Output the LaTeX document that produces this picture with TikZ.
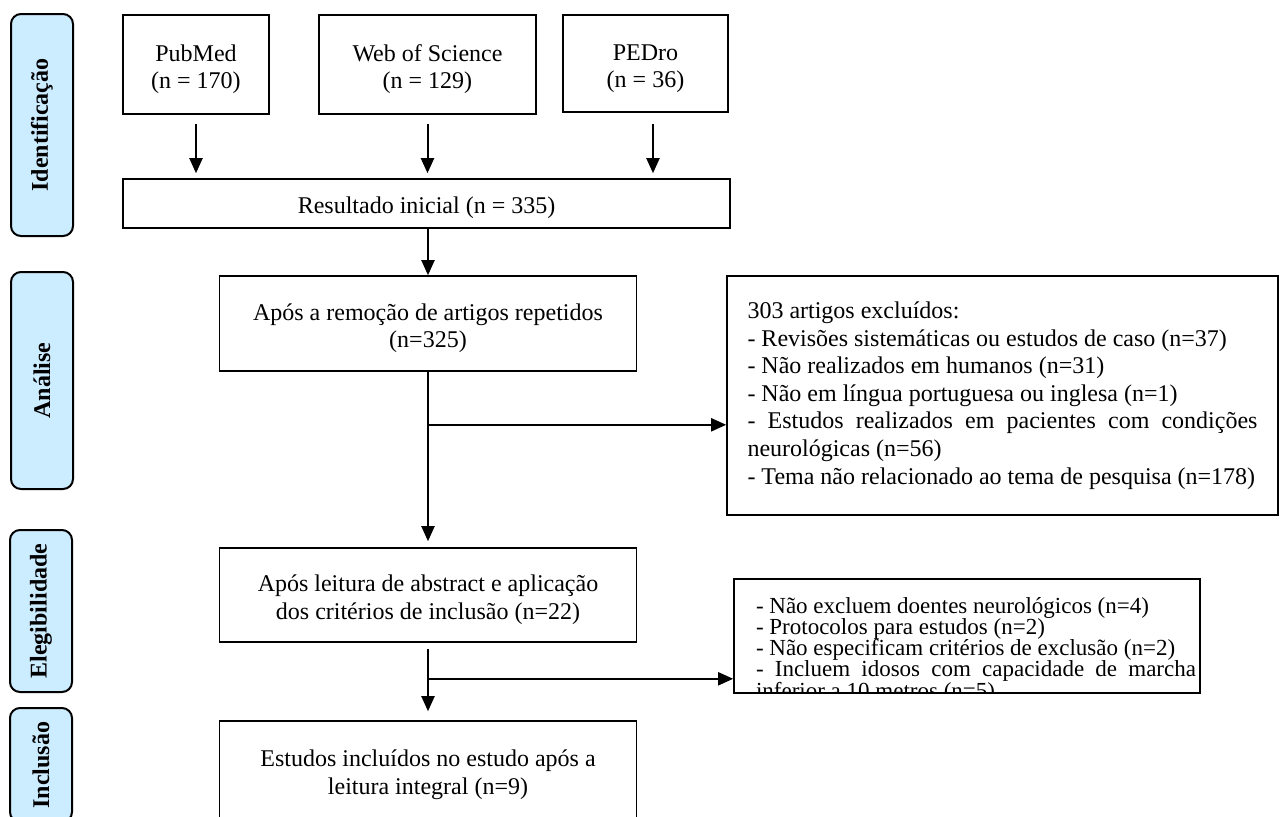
\documentclass[tikz,border=0pt]{standalone}
\usepackage{fontspec}
\setmainfont{Liberation Serif}
\usepackage{xcolor}
\usetikzlibrary{arrows.meta}
\definecolor{phasefill}{HTML}{CCECFF}
\hyphenpenalty=10000
\newcommand\tightlines{\baselineskip=11pt\relax\lineskiplimit=-20pt\relax\lineskip=0pt\relax}
\newcommand\topgap{\rule{0pt}{13pt}}

\begin{document}
\begin{tikzpicture}[x=0.5pt, y=-0.5pt, >={Triangle[length=7.5pt,width=6.5pt]}, line width=1pt,
    font=\fontsize{12pt}{13.8pt}\selectfont,
    box/.style={draw, line width=0.8pt, inner sep=0pt, align=center},
    phase/.style={draw, line width=1pt, rounded corners=5pt, fill=phasefill, rotate=90,
        inner sep=0pt, minimum height=31pt, font=\fontsize{12pt}{13.8pt}\selectfont\bfseries},
    flow/.style={->, line width=1pt}]
    \clip (0,0) rectangle (1282,816);

    \node[phase, minimum width=111pt] (Ident) at (42,125) {Identificação};
    \node[phase, minimum width=108.5pt] (Anal) at (42,380.5) {Análise};
    \node[phase, minimum width=81pt] (Eleg) at (41,611) {Elegibilidade};
    \node[phase, minimum width=57pt] (Incl) at (41,765) {Inclusão};

    \node[box, minimum width=73pt, minimum height=49.5pt] (PubMed) at (196,64.5) {\topgap PubMed\\(n = 170)};
    \node[box, minimum width=108.5pt, minimum height=49.5pt] (WoS) at (427.5,64.5) {\topgap Web of Science\\(n = 129)};
    \node[box, minimum width=82.5pt, minimum height=48.5pt] (PEDro) at (645.5,63.5) {\topgap PEDro\\(n = 36)};
    \node[box, minimum width=303.5pt, minimum height=24.5pt] (Res) at (426.5,203.5) {\topgap Resultado inicial (n = 335)};
    \node[box, minimum width=208.5pt, minimum height=47.5pt] (Rem) at (428,323.5) {\topgap Após a remoção de artigos repetidos\\(n=325)};
    \node[box, minimum width=275.5pt, minimum height=119.5pt, text width=255pt, align=justify,
        inner xsep=10.25pt] (Excl1) at (1002.5,395.5) {303 artigos excluídos:\\
        - Revisões sistemáticas ou estudos de caso (n=37)\\
        - Não realizados em humanos (n=31)\\
        - Não em língua portuguesa ou inglesa (n=1)\\
        - Estudos realizados em pacientes com condições neurológicas (n=56)\\
        - Tema não relacionado ao tema de pesquisa (n=178)};
    \node[box, minimum width=208.5pt, minimum height=47pt] (Leit) at (428,595) {\topgap Após leitura de abstract e aplicação\\dos critérios de inclusão (n=22)};
    \node[box, minimum width=233pt, minimum height=57pt] (Excl2) at (967,636) {};
    \begin{scope}
        \clip (Excl2.south west) rectangle (Excl2.north east);
        \node[anchor=north west, inner sep=0pt, text width=220pt, align=justify,
            font=\fontsize{11.5pt}{11pt}\selectfont] (Excl2txt) at (755,596) {\tightlines
            - Não excluem doentes neurológicos (n=4)\\[-0.4pt]
            - Protocolos para estudos (n=2)\\[-0.4pt]
            - Não especificam critérios de exclusão (n=2)\\[-0.4pt]
            - Incluem idosos com capacidade de marcha inferior a 10 metros (n=5)};
    \end{scope}
    \node[box, minimum width=208.5pt, minimum height=54pt] (Est) at (428,775) {Estudos incluídos no estudo após a\\leitura integral (n=9)};

    \coordinate (split1) at ([yshift=-26.5pt]Rem.south);
    \coordinate (split2) at ([yshift=-18pt]Leit.south);

    \draw[flow] ([yshift=-4.5pt]PubMed.south) -- ([yshift=2.5pt]PubMed.south |- Res.north);
    \draw[flow] ([yshift=-4.5pt]WoS.south) -- ([yshift=2.5pt]WoS.south |- Res.north);
    \draw[flow] ([xshift=3.75pt,yshift=-5.5pt]PEDro.south) -- ([xshift=3.75pt,yshift=2.5pt]PEDro.south |- Res.north);
    \draw[flow] (Rem.north |- Res.south) -- (Rem.north);
    \draw[flow] (Rem.south) -- ([yshift=3pt]Leit.north);
    \draw[flow] (split1) -- (split1 -| Excl1.west);
    \draw[flow] ([yshift=-3pt]Leit.south) -- ([yshift=4.5pt]Est.north);
    \draw[flow] (split2) -- (split2 -| Excl2.west);
\end{tikzpicture}
\end{document}
